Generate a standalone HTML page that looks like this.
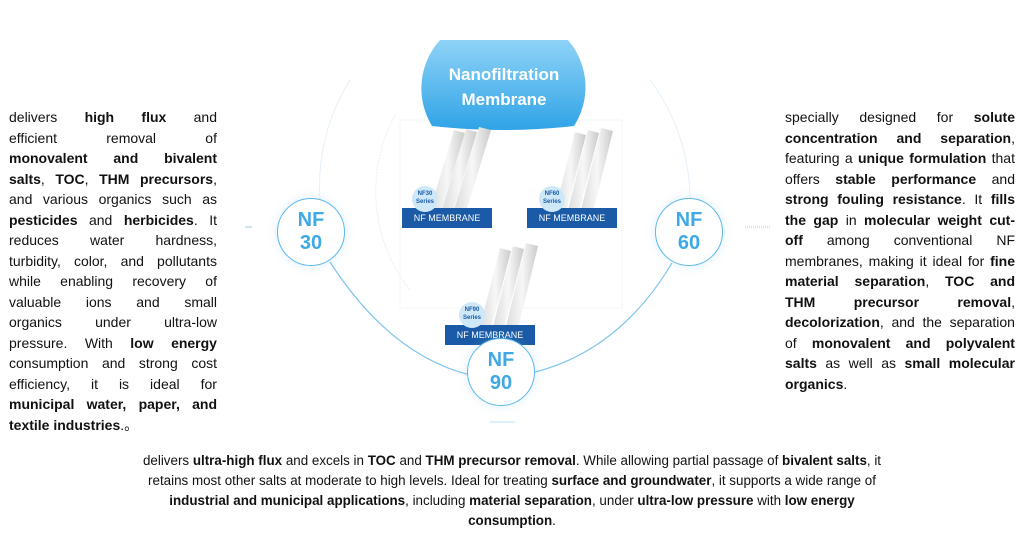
<!DOCTYPE html>
<html><head><meta charset="utf-8"><style>
body{margin:0;width:1024px;height:538px;background:#fff;position:relative;overflow:hidden;font-family:"Liberation Sans",Arial,sans-serif;color:#111}
.col{position:absolute;font-size:14px;line-height:20.5px}
.col div{white-space:nowrap;display:flex;justify-content:space-between}
.col div.l{justify-content:flex-start}
.col div span{white-space:pre}
b{font-weight:bold}
.bot{position:absolute;left:0;width:1024px;top:451px;text-align:center;font-size:13.4px;line-height:20px}
.c{position:absolute;border:1.5px solid #5bb8ea;border-radius:50%;background:#fff;color:#3fa9e6;font-weight:bold;font-size:20px;line-height:23px;text-align:center;display:flex;align-items:center;justify-content:center;box-shadow:0 0 10px rgba(120,190,240,.25)}
.lab{position:absolute;background:#1a5aa6;color:#fff;font-size:9px;text-align:center;line-height:20px;height:20px;width:90px}
.ser{position:absolute;width:26px;height:26px;border-radius:50%;background:#cfe8f8;color:#1a5aa6;font-size:6px;line-height:8px;text-align:center;padding-top:4px;box-sizing:border-box;font-weight:bold}
</style></head><body>
<svg width="1024" height="538" style="position:absolute;left:0;top:0">
<defs><linearGradient id="g" x1="0" y1="0" x2="0" y2="1"><stop offset="0" stop-color="#8fd3f7"/><stop offset="1" stop-color="#2fa3e6"/></linearGradient>
<linearGradient id="t" x1="0" y1="0" x2="1" y2="0"><stop offset="0" stop-color="#dcdcdc"/><stop offset=".5" stop-color="#f7f7f7"/><stop offset="1" stop-color="#cacaca"/></linearGradient></defs>
<path d="M350 80 A200 200 0 0 0 320 200" stroke="#e4f1fa" fill="none"/>
<path d="M650 80 A200 200 0 0 1 690 200" stroke="#e4f1fa" fill="none"/>
<path d="M395 115 A160 160 0 0 0 410 290" stroke="#e6f0f8" fill="none" stroke-dasharray="2 1"/>
<rect x="400" y="120" width="222" height="188" fill="none" stroke="#eee" stroke-dasharray="1 1"/>
<path d="M330 262 Q390 355 470 375" stroke="#7cc4ee" stroke-width="1.2" fill="none"/>
<path d="M535 372 Q620 350 672 263" stroke="#7cc4ee" stroke-width="1.2" fill="none"/>
<line x1="490" y1="422" x2="515" y2="422" stroke="#bfe2f6"/>
<line x1="245" y1="227" x2="252" y2="227" stroke="#9cd" />
<line x1="745" y1="227" x2="770" y2="227" stroke="#9cd" stroke-dasharray="1 1"/>
<path d="M440 40 L568 40 A72 72 0 0 1 574 126 Q504 134 432 126 A72 72 0 0 1 440 40Z" fill="url(#g)"/>
<g fill="url(#t)">
<path d="M430 210 L454 130 L465 133 L441 212Z"/><path d="M442 210 L466 129 L477 132 L453 212Z"/><path d="M454 210 L479 127 L491 130 L466 212Z"/>
<path d="M555 210 L575 132 L586 135 L566 212Z"/><path d="M568 210 L588 130 L599 133 L579 212Z"/><path d="M581 210 L601 128 L613 131 L593 212Z"/>
<path d="M480 327 L500 248 L511 251 L491 329Z"/><path d="M493 327 L513 246 L524 249 L504 329Z"/><path d="M506 327 L526 243 L538 246 L518 329Z"/>
</g>
</svg>
<div style="position:absolute;left:430px;top:62px;width:148px;text-align:center;color:#fff;font-weight:bold;font-size:17px;line-height:25px">Nanofiltration<br>Membrane</div>
<div class="lab" style="left:402px;top:208px">NF MEMBRANE</div>
<div class="lab" style="left:527px;top:208px">NF MEMBRANE</div>
<div class="lab" style="left:445px;top:325px">NF MEMBRANE</div>
<div class="ser" style="left:412px;top:186px">NF30<br>Series</div>
<div class="ser" style="left:539px;top:186px">NF60<br>Series</div>
<div class="ser" style="left:459px;top:302px">NF90<br>Series</div>
<div class="c" style="left:277px;top:198px;width:66px;height:66px">NF<br>30</div>
<div class="c" style="left:655px;top:198px;width:66px;height:66px">NF<br>60</div>
<div class="c" style="left:467px;top:338px;width:66px;height:66px">NF<br>90</div>

<div class="col" style="left:9px;top:107px;width:208px">
<div><span>delivers</span><b>high</b><b>flux</b><span>and</span></div>
<div><span>efficient</span><span>removal</span><span>of</span></div>
<div><b>monovalent</b><b>and</b><b>bivalent</b></div>
<div><span><b>salts</b>,</span><span><b>TOC</b>,</span><b>THM</b><span><b>precursors</b>,</span></div>
<div><span>and</span><span>various</span><span>organics</span><span>such</span><span>as</span></div>
<div><b>pesticides</b><span>and</span><span><b>herbicides</b>.</span><span>It</span></div>
<div><span>reduces</span><span>water</span><span>hardness,</span></div>
<div><span>turbidity,</span><span>color,</span><span>and</span><span>pollutants</span></div>
<div><span>while</span><span>enabling</span><span>recovery</span><span>of</span></div>
<div><span>valuable</span><span>ions</span><span>and</span><span>small</span></div>
<div><span>organics</span><span>under</span><span>ultra-low</span></div>
<div><span>pressure.</span><span>With</span><b>low</b><b>energy</b></div>
<div><span>consumption</span><span>and</span><span>strong</span><span>cost</span></div>
<div><span>efficiency,</span><span>it</span><span>is</span><span>ideal</span><span>for</span></div>
<div><b>municipal</b><b>water,</b><b>paper,</b><b>and</b></div>
<div class="l"><span><b>textile industries</b>.。</span></div>
</div>

<div class="col" style="left:785px;top:107px;width:230px">
<div><span>specially</span><span>designed</span><span>for</span><b>solute</b></div>
<div><b>concentration</b><b>and</b><span><b>separation</b>,</span></div>
<div><span>featuring</span><span>a</span><b>unique</b><b>formulation</b><span>that</span></div>
<div><span>offers</span><b>stable</b><b>performance</b><span>and</span></div>
<div><b>strong</b><b>fouling</b><span><b>resistance</b>.</span><span>It</span><b>fills</b></div>
<div><b>the</b><b>gap</b><span>in</span><b>molecular</b><b>weight</b><b>cut-</b></div>
<div><b>off</b><span>among</span><span>conventional</span><span>NF</span></div>
<div><span>membranes,</span><span>making</span><span>it</span><span>ideal</span><span>for</span><b>fine</b></div>
<div><b>material</b><span><b>separation</b>,</span><b>TOC</b><b>and</b></div>
<div><b>THM</b><b>precursor</b><span><b>removal</b>,</span></div>
<div><span><b>decolorization</b>,</span><span>and</span><span>the</span><span>separation</span></div>
<div><span>of</span><b>monovalent</b><b>and</b><b>polyvalent</b></div>
<div><b>salts</b><span>as</span><span>well</span><span>as</span><b>small</b><b>molecular</b></div>
<div class="l"><span><b>organics</b>.</span></div>
</div>

<div class="bot">
delivers <b>ultra-high flux</b> and excels in <b>TOC</b> and <b>THM precursor removal</b>. While allowing partial passage of <b>bivalent salts</b>, it<br>
retains most other salts at moderate to high levels. Ideal for treating <b>surface and groundwater</b>, it supports a wide range of<br>
<b>industrial and municipal applications</b>, including <b>material separation</b>, under <b>ultra-low pressure</b> with <b>low energy</b><br>
<b>consumption</b>.
</div>
</body></html>
